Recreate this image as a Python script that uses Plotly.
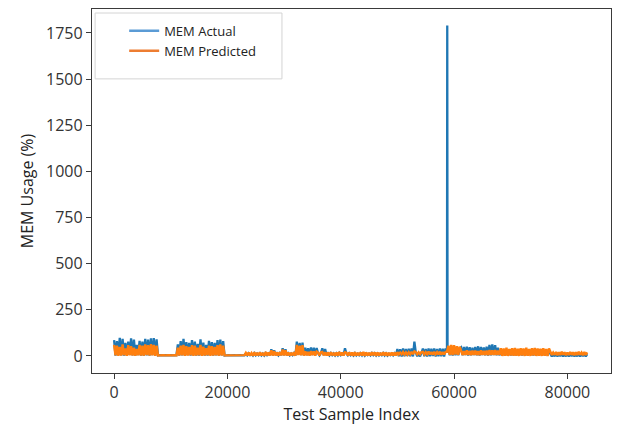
import plotly.graph_objects as go

STEP = 250

actual_seg1 = [85,2,80,4,98,3,92,1,70,2,78,5,95,3,88,2,60,4,82,1,78,2,92,3,88,1,95,4,96,2,90,3]
pred_seg1   = [60,3,55,1,48,2,62,4,40,1,58,3,52,2,45,1,38,3,60,2,55,1,62,4,58,2,64,3,60,1,56,2]

actual_flat1 = [4,3,4,3,4,3,4,3,4,3,4,3,4]
pred_flat1   = [3,4,3,4,3,4,3,4,3,4,3,4,3]

actual_seg2 = [62,2,80,3,92,1,75,4,70,2,85,3,78,1,65,2,90,3,72,1,60,2,82,4,75,1,70,3,85,2,88,3,80,2]
pred_seg2   = [45,2,55,3,60,1,52,2,48,3,58,1,55,2,45,3,60,1,50,2,42,3,56,1,52,2,48,3,58,1,62,2,55,3]

actual_flat2 = [4,3,4,3,4,3,4,3,4,3,4,3,4,3]
pred_flat2   = [3,4,3,4,3,4,3,4,3,4,3,4,3,4]

actual_seg3 = (
    [12,3,14,4,11,2,15,3,13,4,14,3,12,2,15,4,13,3]
    + [36,3,30,4]
    + [14,3,15,4]
    + [41,4,36,3]
    + [14,3,13,4,15,2]
    + [77,5,70,4,72,3]
    + [45,4,42,3,46,5,44,3,43]
    + [14,3,15]
    + [41,4,38,3]
    + [14,3,15,4,13,2,14,3,16,4,13,3]
    + [41]
    + [13,3,14,4,12,2,15,3,12,4,14,3,16,2,13,4,12,3,15,4,14,2,13,3,12,4,15,3,14,2,12,4,13,3,14,3]
    + [38,-2,36,-3,40,-2,37,-1,39,-2,41,-3]
    + [77]
    + [18,-2,16,-3,17]
    + [40,-2,38,-3,41,-2,39,-1,40,-3,37,-2,41,-2,39,-3,40]
)
pred_seg3 = (
    [16,2,18,3,15,1,20,2,17,3,19,2,16,1,21,3,18,2]
    + [30,2,26,3]
    + [18,2,20,3]
    + [35,3,30,2]
    + [19,2,17,3,20,1]
    + [60,4,55,3,58,2]
    + [25,3,22,2,26,4,24,2,23]
    + [18,2,20]
    + [22,3,20,2]
    + [18,2,20,3,17,1,19,2,21,3,18,2]
    + [20]
    + [17,2,19,3,18,1,20,2,16,3,19,2,21,1,18,3,17,2,20,3,19,1,18,2,16,3,20,2,19,1,17,3,18,2,19,2]
    + [20,8,18,9,21,8,19,7,20,8,22,9]
    + [24]
    + [20,8,19,9,21]
    + [22,8,20,9,23,8,21,7,22,9,20,8,23,7,21,8,22]
)

spike_index  = [58750, 58800, 58850]
actual_spike = [20, 1790, 25]
pred_spike   = [22, 30, 28]

actual_post = ([40,3,45,2,44,4,42,3,40]
               + [46,3,48,4,50,2,47,3,45,4,49,3,52,2,48,4,46,3,50,2]
               + [60,3,62,4,58,3]
               + [45,3])
pred_post = ([55,6,60,5,58,7,52,6,50]
             + [28,5,26,6,30,5,27,4,29,6,28,5,26,4,30,6,27,5,29,4]
             + [32,5,30,6,31,5]
             + [28,6])

actual_thick = [30,3,28,2,32,4,27,3,29,2,31,3,28,4,30,2,27,3,32,2,29,4,28,3,30,2,31,3,27,4,29,2,28,3,30]
pred_thick   = [42,0,40,1,44,0,38,2,41,0,43,1,39,0,42,2,40,0,44,1,38,0,41,2,43,0,40,1,39,0,42,1,37,0,40]

actual_tail = [12,-3,10,-2,13,-3,11,-2,12,-3,10,-2,13,-3,11,-2,12,-3,10,-2,13,-3,11,-2,12,-3,10]
pred_tail   = [20,5,18,6,21,4,19,5,22,6,20,4,18,5,21,6,19,4,20,5,22,6,18,4,21,5,19]

actual_before = actual_seg1 + actual_flat1 + actual_seg2 + actual_flat2 + actual_seg3
pred_before = pred_seg1 + pred_flat1 + pred_seg2 + pred_flat2 + pred_seg3
actual_after = actual_post + actual_thick + actual_tail
pred_after = pred_post + pred_thick + pred_tail

mem_actual = actual_before + actual_spike + actual_after
mem_predicted = pred_before + pred_spike + pred_after
after_start = spike_index[-1] + 150
sample_index = ([i * STEP for i in range(len(actual_before))]
                + spike_index
                + [after_start + i * STEP for i in range(len(actual_after))])

x_ticks = [0, 20000, 40000, 60000, 80000]
y_ticks = [0, 250, 500, 750, 1000, 1250, 1500, 1750]

# ---- figure ----
fig = go.Figure()
fig.add_trace(go.Scatter(x=sample_index, y=mem_actual, mode="lines",
                         line=dict(color="#1f77b4", width=2.3), showlegend=False))
fig.add_trace(go.Scatter(x=sample_index, y=mem_predicted, mode="lines",
                         line=dict(color="#ff7f0e", width=2.4), showlegend=False))
# legend entries
fig.add_trace(go.Scatter(x=[None], y=[None], mode="lines", name="MEM Actual",
                         line=dict(color="#5B9BD5", width=2.5)))
fig.add_trace(go.Scatter(x=[None], y=[None], mode="lines", name="MEM Predicted",
                         line=dict(color="#ED7D31", width=2.5)))

ymin, ymax = min(mem_actual + mem_predicted), max(mem_actual + mem_predicted)
ypad = 0.05 * (ymax - ymin)

axis_common = dict(showline=True, mirror=True, linecolor="#3a3a3a", linewidth=1.3,
                   ticks="outside", ticklen=5, tickcolor="#3a3a3a", tickwidth=1.2,
                   showgrid=False, zeroline=False,
                   tickfont=dict(family="Open Sans", size=16, color="#333333"))

fig.update_layout(
    width=631, height=429,
    margin=dict(l=92, r=20, t=9, b=56),
    paper_bgcolor="white", plot_bgcolor="white",
    xaxis=dict(range=[-3900, 87700], tickvals=x_ticks,
               ticktext=[str(v) for v in x_ticks],
               title=dict(text="Test Sample Index", standoff=4,
                          font=dict(family="Open Sans", size=16, color="#222222")),
               **axis_common),
    yaxis=dict(range=[ymin - ypad, ymax + ypad], tickvals=y_ticks,
               ticktext=[str(v) for v in y_ticks],
               title=dict(text="MEM Usage (%)", standoff=8,
                          font=dict(family="Open Sans", size=16, color="#222222")),
               **axis_common),
    legend=dict(x=0.062, y=0.981, xanchor="left", yanchor="top",
                bgcolor="rgba(0,0,0,0)", borderwidth=0,
                font=dict(family="Open Sans", size=13, color="#222222"),
                tracegroupgap=0),
    shapes=[dict(type="rect", xref="paper", yref="paper",
                 x0=0.006, x1=0.366, y0=0.808, y1=0.989,
                 line=dict(color="#d4d4d4", width=1), fillcolor="white", layer="above")],
)

fig.write_html("out.html")
